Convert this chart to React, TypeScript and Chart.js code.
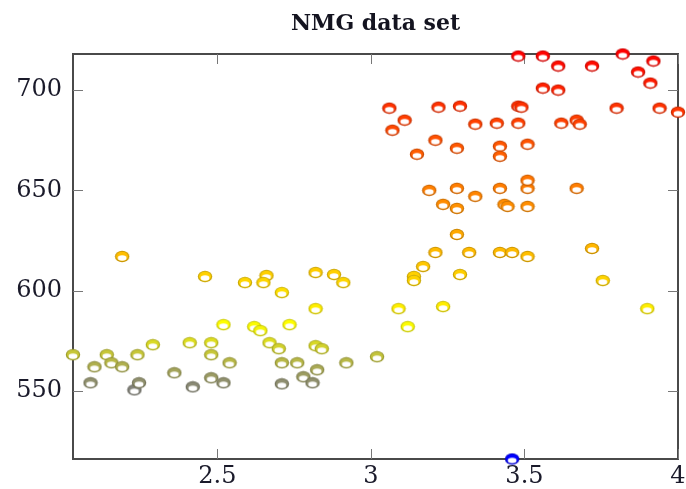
import { useEffect, useRef } from "react";
import { Chart, registerables } from "chart.js";

Chart.register(...registerables);

const chartTitle = "NMG data set";
const xTicks = [2.5, 3, 3.5, 4];
const yTicks = [550, 600, 650, 700];
const xRange = [2.03, 4.0];
const yRange = [516, 718];

const xValues = [
  2.03, 2.1, 2.14, 2.155, 2.19, 2.24, 2.29, 2.087, 2.23, 2.245, 2.36, 2.42, 2.41, 2.48, 2.48, 2.48, 2.52, 2.54,
  2.19, 2.46, 2.52, 2.59, 2.66, 2.65, 2.71, 2.82, 2.88, 2.91, 2.82, 2.62, 2.64, 2.735, 2.67, 2.7, 2.82,
  2.84, 2.71, 2.76, 2.825, 2.78, 2.92, 3.02, 2.71, 2.81,
  3.19, 3.28, 3.34, 3.42, 3.51, 3.51, 3.235, 3.28, 3.435, 3.445, 3.51, 3.28, 3.21, 3.32, 3.42, 3.46, 3.51,
  3.17, 3.14, 3.14, 3.29, 3.09, 3.235, 3.12, 3.67, 3.72, 3.755, 3.9,
  3.48, 3.56, 3.61, 3.72, 3.82, 3.92, 3.87, 3.91, 3.56, 3.61, 3.06, 3.22, 3.29, 3.48, 3.49, 3.8, 3.94, 4.0,
  3.11, 3.07, 3.34, 3.41, 3.48, 3.62, 3.67, 3.68, 3.21, 3.28, 3.15, 3.42, 3.42, 3.51,
  3.46,
];
const yValues = [
  568, 562, 568, 564, 562, 568, 573, 554, 550.5, 554, 559, 552, 574, 574, 568, 556.5, 554, 564,
  617, 607, 583, 604, 607.5, 604, 599, 609, 608, 604, 591, 582, 580, 583, 574, 571, 572.5,
  571, 564, 564, 560.5, 557, 564, 567, 553.5, 554,
  650, 651, 647, 651, 651, 655, 643, 641, 643, 642, 642, 628, 619, 619, 619, 619, 617,
  612, 607, 605, 608, 591, 592, 582, 651, 621, 605, 591,
  717, 717, 712, 712, 718, 714.5, 709, 703.5, 701, 700, 691, 691.5, 692, 692, 691.5, 691, 691, 689,
  685, 680, 683, 683.5, 683.5, 683.5, 685, 683, 675, 671, 668, 672, 667, 673,
  516,
];

const colorStops: [number, number[]][] = [
  [0, [0, 0, 255]],
  [0.33, [255, 255, 0]],
  [0.66, [255, 128, 0]],
  [1, [255, 0, 0]],
];

function colorFor(v: number): number[] {
  const t = Math.min(1, Math.max(0, (v - yRange[0]) / (yRange[1] - yRange[0])));
  for (let i = 0; i < colorStops.length - 1; i++) {
    const [t0, c0] = colorStops[i];
    const [t1, c1] = colorStops[i + 1];
    if (t <= t1) {
      const s = (t - t0) / (t1 - t0);
      return c0.map((c, k) => Math.round(c + (c1[k] - c) * s));
    }
  }
  return colorStops[colorStops.length - 1][1];
}

const markerCache = new Map<string, HTMLCanvasElement>();
function marker(rgb: number[]): HTMLCanvasElement {
  const key = rgb.join(",");
  const hit = markerCache.get(key);
  if (hit) return hit;
  const c = document.createElement("canvas");
  c.width = 16;
  c.height = 13;
  const g = c.getContext("2d")!;
  const dark = rgb.map((v) => Math.round(v * 0.8));
  g.beginPath();
  g.ellipse(8, 6.5, 7.2, 5.7, 0, 0, Math.PI * 2);
  g.fillStyle = `rgb(${dark.join(",")})`;
  g.fill();
  g.beginPath();
  g.ellipse(8, 6.3, 6.0, 4.6, 0, 0, Math.PI * 2);
  g.fillStyle = `rgb(${rgb.join(",")})`;
  g.fill();
  g.beginPath();
  g.ellipse(8, 8.0, 4.4, 2.7, 0, 0, Math.PI * 2);
  g.fillStyle = "#ffffff";
  g.fill();
  markerCache.set(key, c);
  return c;
}

const framePlugin = {
  id: "frame",
  beforeDatasetsDraw(chart: any) {
    const { ctx, chartArea } = chart;
    const { left, right, top, bottom } = chartArea;
    const xs = chart.scales.x;
    const ys = chart.scales.y;
    ctx.save();
    ctx.strokeStyle = "#4a4a4a";
    ctx.lineWidth = 2;
    ctx.strokeRect(left, top, right - left, bottom - top);
    ctx.strokeStyle = "#777777";
    ctx.lineWidth = 1;
    ctx.beginPath();
    for (const t of xTicks) {
      const px = Math.round(xs.getPixelForValue(t)) + 0.5;
      ctx.moveTo(px, bottom);
      ctx.lineTo(px, bottom - 10);
      ctx.moveTo(px, top);
      ctx.lineTo(px, top + 10);
    }
    for (const t of yTicks) {
      const py = Math.round(ys.getPixelForValue(t)) + 0.5;
      ctx.moveTo(left, py);
      ctx.lineTo(left + 10, py);
      ctx.moveTo(right, py);
      ctx.lineTo(right - 10, py);
    }
    ctx.stroke();
    ctx.restore();
  },
  afterDraw(chart: any) {
    const { ctx, chartArea } = chart;
    ctx.save();
    ctx.font = 'bold 22px "DejaVu Serif"';
    ctx.fillStyle = "#141420";
    ctx.textAlign = "center";
    ctx.textBaseline = "alphabetic";
    ctx.fillText(chartTitle, (chartArea.left + chartArea.right) / 2, 30);
    ctx.restore();
  },
};

export default function App() {
  const ref = useRef<HTMLCanvasElement | null>(null);
  useEffect(() => {
    if (!ref.current) return;
    const tickFont = { family: "DejaVu Serif", size: 24 };
    const chart = new Chart(ref.current, {
      type: "scatter",
      data: {
        datasets: [
          {
            data: xValues.map((x, i) => ({ x, y: yValues[i] })),
            pointStyle: (ctx: any) => marker(colorFor(ctx.raw ? ctx.raw.y : 600)),
            pointRadius: 7,
            clip: false as any,
          },
        ],
      },
      options: {
        responsive: false,
        animation: false,
        layout: { padding: { top: 54, right: 3, left: 0, bottom: 0 } },
        plugins: { legend: { display: false }, tooltip: { enabled: false }, title: { display: false } },
        scales: {
          x: {
            type: "linear",
            min: xRange[0],
            max: xRange[1],
            afterBuildTicks: (s: any) => {
              s.ticks = xTicks.map((v) => ({ value: v }));
            },
            afterFit: (s: any) => {
              s.height = 30;
              s.paddingLeft = 0;
              s.paddingRight = 0;
            },
            ticks: { font: tickFont, color: "#1a1a2a", padding: 3, maxRotation: 0, callback: (v: any) => String(v) },
            grid: { display: false, drawTicks: false },
            border: { display: false },
          },
          y: {
            type: "linear",
            min: yRange[0],
            max: yRange[1],
            afterBuildTicks: (s: any) => {
              s.ticks = yTicks.map((v) => ({ value: v }));
            },
            afterFit: (s: any) => {
              s.width = 73;
              s.paddingTop = 0;
              s.paddingBottom = 0;
            },
            ticks: { font: tickFont, color: "#1a1a2a", padding: 11, callback: (v: any) => String(v) },
            grid: { display: false, drawTicks: false },
            border: { display: false },
          },
        },
      },
      plugins: [framePlugin],
    });
    return () => chart.destroy();
  }, []);
  return (
    <div style={{ position: "absolute", left: 0, top: 0, width: 686, height: 489, background: "#fff" }}>
      <canvas ref={ref} width={686} height={489} style={{ display: "block" }} />
    </div>
  );
}
